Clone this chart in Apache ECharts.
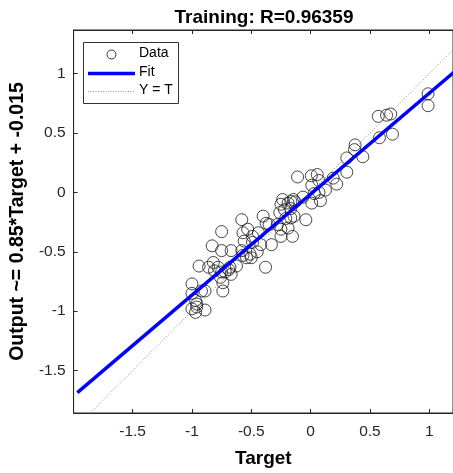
<!DOCTYPE html>
<html>
<head>
<meta charset="utf-8">
<script src="https://cdn.jsdelivr.net/npm/echarts@6/dist/echarts.min.js"></script>
<style>
  html, body { margin: 0; padding: 0; background: #fff; }
  #main { width: 453px; height: 473px; }
</style>
</head>
<body>
<div id="main"></div>
<script>
// target values of the training samples
var targets = [
  0.99, 0.99, 0.57, 0.64, 0.675, 0.58, 0.69, 0.375, 0.37, 0.305, 0.44, 0.305, 0.19, 0.22,
  -0.11, 0.006, 0.056, 0.07, 0.01, 0.125, 0.07, 0.03, 0.083, 0.01, -0.064, -0.146, -0.13, -0.236,
  -0.25, -0.26, -0.19, -0.167, -0.22, -0.167, -0.14, -0.167, -0.21, -0.04, -0.40, -0.375,
  -0.35, -0.28, -0.25, -0.19, -0.44, -0.153, -0.33, -0.42, -0.45, -0.49, -0.5, -0.38,
  -0.58, -0.75, -0.83, -0.75, -0.57, -0.53, -0.56, -0.25, -0.49, -0.58, -0.57, -0.54, -0.51,
  -0.625, -0.69, -0.67, -0.78, -0.81, -0.75, -0.86, -0.94, -0.74, -0.76, -1.0, -1.0,
  -0.96, -0.97, -0.89, -0.92, -0.89, -0.97, -0.96, -1.0, -0.82, -0.72, -0.74, -0.68, -0.67
];
// network outputs for the same samples
var outputs = [
  0.83, 0.73, 0.64, 0.65, 0.66, 0.46, 0.49, 0.40, 0.36, 0.29, 0.30, 0.17, 0.12, 0.07,
  0.13, 0.14, 0.15, 0.10, 0.06, 0.02, 0.0, -0.01, -0.07, -0.09, -0.04, -0.06, -0.08, -0.06,
  -0.10, -0.17, -0.09, -0.076, -0.146, -0.136, -0.2, -0.215, -0.22, -0.23, -0.2, -0.26,
  -0.27, -0.27, -0.31, -0.30, -0.34, -0.37, -0.44, -0.44, -0.50, -0.42, -0.55, -0.63,
  -0.23, -0.33, -0.45, -0.49, -0.34, -0.31, -0.41, -0.37, -0.37, -0.49, -0.53, -0.55, -0.52,
  -0.62, -0.65, -0.69, -0.63, -0.66, -0.67, -0.63, -0.62, -0.76, -0.715, -0.77, -0.85,
  -0.94, -1.01, -0.99, -0.83, -0.83, -0.91, -0.965, -0.98, -0.59, -0.67, -0.83, -0.63, -0.49
];
// fit line end points and the Y = T reference line
var fitX = [-1.966, 1.25];
var fitY = [-1.686, 1.048];
var idX = [-1.966, 1.25];
var idY = [-1.966, 1.25];

var titleText = 'Training: R=0.96359';
var xName = 'Target';
var yName = 'Output ~= 0.85*Target + -0.015';
var legendNames = ['Data', 'Fit', 'Y = T'];

var pairs = function (xs, ys) {
  var out = [];
  for (var i = 0; i < xs.length; i++) out.push([xs[i], ys[i]]);
  return out;
};

var axisCol = '#262626';
var font = 'Liberation Sans, Arial, sans-serif';

// legend drawn by hand, MATLAB style box
var legendBox = function () {
  var txt = function (y, s) {
    return { type: 'text', left: 139, top: y - 8, z: 11, style: { text: s, font: '14px ' + font, fill: '#000' } };
  };
  return [
    { type: 'rect', left: 83, top: 42, shape: { width: 95, height: 61 },
      style: { fill: '#fff', stroke: '#333', lineWidth: 1 }, z: 10 },
    { type: 'circle', shape: { cx: 111.5, cy: 54.5, r: 4.5 },
      style: { fill: 'none', stroke: '#333', lineWidth: 1 }, z: 11 },
    { type: 'line', shape: { x1: 88, y1: 73.5, x2: 135, y2: 73.5 },
      style: { stroke: '#0000ff', lineWidth: 3.5 }, z: 11 },
    { type: 'line', shape: { x1: 88, y1: 91.5, x2: 135, y2: 91.5 },
      style: { stroke: '#999', lineWidth: 1, lineDash: [1, 1.5] }, z: 11 },
    txt(54.5, legendNames[0]),
    txt(73.5, legendNames[1]),
    txt(91.5, legendNames[2])
  ];
};

var chart = echarts.init(document.getElementById('main'), null, { renderer: 'canvas' });
chart.setOption({
  backgroundColor: '#fff',
  animation: false,
  title: {
    text: titleText,
    left: 259, top: 3, textAlign: 'center',
    textStyle: { fontFamily: font, fontSize: 19, fontWeight: 'bold', color: '#000' }
  },
  graphic: legendBox(),
  grid: { left: 70, top: 30, right: -1, bottom: 56, show: true, borderColor: axisCol, borderWidth: 1 },
  xAxis: [{
    type: 'value', min: -1.9975, max: 1.2,
    name: xName, nameLocation: 'middle', nameGap: 36,
    nameTextStyle: { fontFamily: font, fontSize: 19, fontWeight: 'bold', color: '#000' },
    axisLine: { onZero: false, lineStyle: { color: axisCol } },
    axisTick: { inside: true, length: 4, lineStyle: { color: axisCol } },
    axisLabel: { showMinLabel: false, showMaxLabel: false, margin: 11, fontFamily: font, fontSize: 15.5, color: axisCol },
    splitLine: { show: false }
  }, {
    type: 'value', min: -1.9975, max: 1.2, position: 'top',
    axisLine: { onZero: false, lineStyle: { color: axisCol } },
    axisTick: { inside: true, length: 4, lineStyle: { color: axisCol } },
    axisLabel: { show: false },
    splitLine: { show: false }
  }],
  yAxis: {
    type: 'value', min: -1.857, max: 1.367,
    name: yName, nameLocation: 'middle', nameGap: 43, nameRotate: 90,
    nameTextStyle: { fontFamily: font, fontSize: 19.5, fontWeight: 'bold', color: '#000' },
    axisLine: { show: true, onZero: false, lineStyle: { color: axisCol } },
    axisTick: { show: true, inside: true, length: 4, lineStyle: { color: axisCol } },
    axisLabel: { showMinLabel: false, showMaxLabel: false, margin: 8, fontFamily: font, fontSize: 15.5, color: axisCol },
    splitLine: { show: false }
  },
  series: [{
    name: legendNames[0], type: 'scatter', z: 2,
    symbol: 'circle', symbolSize: 12,
    itemStyle: { color: 'rgba(0,0,0,0)', borderColor: '#1a1a1a', borderWidth: 1 },
    data: pairs(targets, outputs)
  }, {
    name: legendNames[1], type: 'line', z: 4, symbol: 'none',
    lineStyle: { color: '#0000ff', width: 3.5 }, itemStyle: { color: '#0000ff' },
    data: pairs(fitX, fitY)
  }, {
    name: legendNames[2], type: 'line', z: 3, symbol: 'none',
    lineStyle: { color: '#888', width: 1, type: [1, 2] }, itemStyle: { color: '#888' },
    data: pairs(idX, idY)
  }]
});
</script>
</body>
</html>
